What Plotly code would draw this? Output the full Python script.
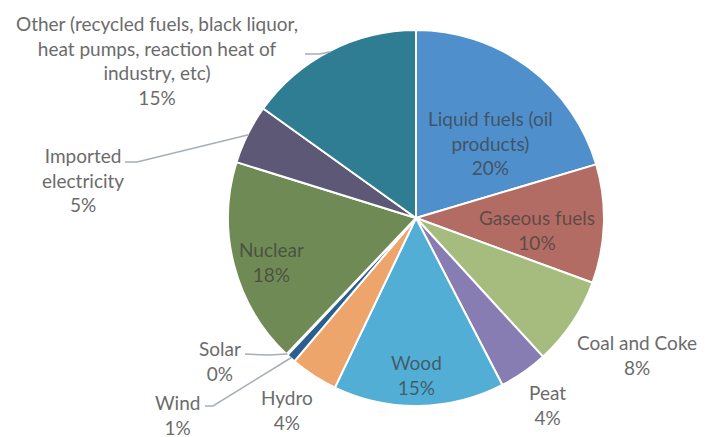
import math
import plotly.graph_objects as go

# ---- data ----
labels = ["Liquid fuels (oil products)", "Gaseous fuels", "Coal and Coke", "Peat",
          "Wood", "Hydro", "Wind", "Solar", "Nuclear", "Imported electricity",
          "Other (recycled fuels, black liquor, heat pumps, reaction heat of industry, etc)"]
values = [20.4, 10.2, 7.6, 4.2, 14.7, 4.1, 0.8, 0.1, 17.7, 5.1, 15.1]
colors = ["#4F8FCB", "#B36C63", "#A6BC7E", "#877DB2", "#52AED5", "#EDA56C",
          "#2C5F8F", "#C9D6E6", "#6F8A55", "#5E5877", "#2F7D92"]
# display text (line breaks as in the chart)
label_text = ["Liquid fuels (oil<br>products)", "Gaseous fuels", "Coal and Coke", "Peat",
              "Wood", "Hydro", "Wind", "Solar", "Nuclear", "Imported<br>electricity",
              "Other (recycled fuels, black liquor,<br>heat pumps, reaction heat of<br>industry, etc)"]

W, H = 713, 437
OFF = 8  # page body margin offset of the figure div
CX, CY, R = 416 - OFF, 218 - OFF, 188

fig = go.Figure(go.Pie(
    labels=labels, values=values, sort=False, direction="clockwise", rotation=0,
    marker=dict(colors=colors, line=dict(color="white", width=2)),
    textinfo="none", hoverinfo="label+percent",
    domain=dict(x=[(CX - R) / W, (CX + R) / W], y=[1 - (CY + R) / H, 1 - (CY - R) / H]),
))

total = sum(values)
pcts = [round(v / total * 100) for v in values]

# label placement (pixel centres in the reference) and inside/outside style
label_pos = {
    0: (490, 143, True), 1: (537, 230, True), 2: (637, 355, False), 3: (547, 405, False),
    4: (416, 375, True), 5: (287, 410, False), 6: (177, 415, False), 7: (220, 361, False),
    8: (271, 262, True), 9: (83, 180, False), 10: (157, 61, False),
}
# leader line start points (pixel), end point computed from the slice angle
leaders = {10: [(305, 54), (320, 54)], 9: [(125, 162), (137, 162)],
           7: [(245, 354), (268, 355)], 6: [(205, 406), (213, 406)]}

def px(x):
    return (x - OFF) / W

def py(y):
    return 1 - (y - OFF) / H

annotations = []
for i, t in enumerate(label_text):
    x, y, inside = label_pos[i]
    annotations.append(dict(
        x=px(x), y=py(y), xref="paper", yref="paper", showarrow=False,
        xanchor="center", yanchor="middle", align="center",
        text=f"{t}<br>{pcts[i]}%",
        font=dict(family="Lato, Carlito, sans-serif", size=19,
                  color="rgba(60,60,60,0.72)" if inside else "#6B6B6B"),
    ))

shapes = []
cum = 0.0
mids = []
for v in values:
    mids.append((cum + v / 2) / total * 2 * math.pi)
    cum += v
for i, pts in leaders.items():
    th = mids[i]
    ex, ey = 416 + (R - 1) * math.sin(th), 218 - (R - 1) * math.cos(th)
    allp = pts + [(ex, ey)]
    path = "M " + " L ".join(f"{px(a):.5f},{py(b):.5f}" for a, b in allp)
    shapes.append(dict(type="path", path=path, xref="paper", yref="paper",
                       line=dict(color="#A6AEB8", width=1.5)))

fig.update_layout(
    width=W, height=H, margin=dict(l=0, r=0, t=0, b=0),
    paper_bgcolor="white", plot_bgcolor="white", showlegend=False,
    annotations=annotations, shapes=shapes,
)
fig.write_html("out.html")
